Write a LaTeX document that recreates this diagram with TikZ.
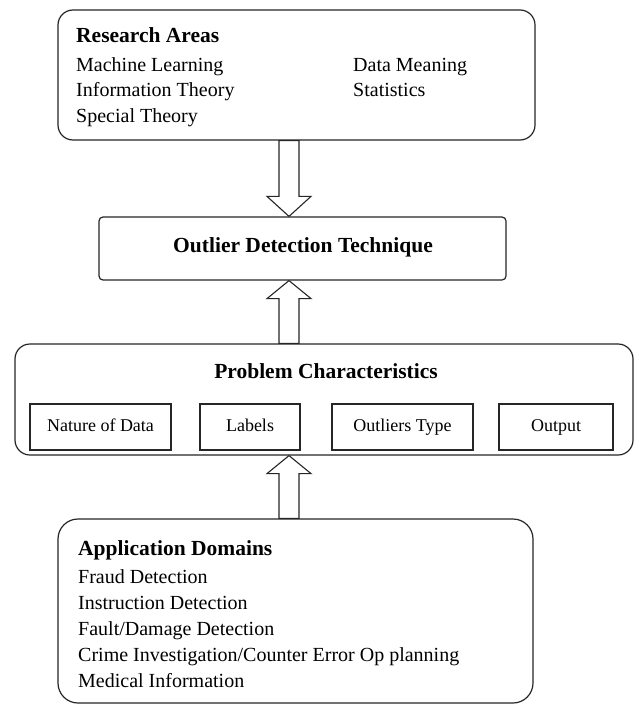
\documentclass[tikz,border=0pt]{standalone}
\usepackage{fontspec}
\setmainfont{Liberation Serif}
\usetikzlibrary{calc}
\newcommand\blkarrow[3]{%
  \draw[arrowshape] ($(#1)+(-10,0)$) -- ($(#2)+(-10,#3)$) -- ($(#2)+(-22,#3)$) -- (#2)
    -- ($(#2)+(22,#3)$) -- ($(#2)+(10,#3)$) -- ($(#1)+(10,0)$) -- cycle;}
\begin{document}
\begin{tikzpicture}[x=1pt,y=-1pt,
  bigbox/.style={draw=black!85, line width=1.2pt, rounded corners=15pt, inner sep=0pt},
  smallbox/.style={draw=black!85, line width=1.1pt, inner sep=0pt, minimum height=46pt,
     text height=13pt, text depth=5pt, font=\fontsize{18}{20}\selectfont},
  ttl/.style={anchor=base west, inner sep=0pt, font=\fontsize{21.5}{24}\selectfont\bfseries},
  itm/.style={anchor=base west, inner sep=0pt, font=\fontsize{20}{24}\selectfont},
  arrowshape/.style={draw=black!85, line width=1.1pt, fill=white, line join=miter}]
\useasboundingbox (0,0) rectangle (639,706);
\fill[white] (0,0) rectangle (639,706);
\coordinate (ax) at (289,0);

% Research Areas
\node[bigbox, minimum width=477pt, minimum height=130pt] (ra) at (296.5,75) {};
\node[ttl] (ratitle) at (76,43) {Research Areas};
\node[itm] (ml) at (76,72) {Machine Learning};
\node[itm] (it) at (76,97) {Information Theory};
\node[itm] (st) at (76,123) {Special Theory};
\node[itm] (dm) at (353,72) {Data Meaning};
\node[itm] (sta) at (353,97) {Statistics};

% Outlier Detection Technique
\node[draw=black!85, line width=1.2pt, rounded corners=4pt, minimum width=407pt,
      minimum height=63pt] (odt) at (302.5,248.5) {};
\node[anchor=base, inner sep=0pt, font=\fontsize{21.5}{24}\selectfont\bfseries]
      (odttext) at (303,252) {Outlier Detection Technique};

% Problem Characteristics
\node[bigbox, minimum width=618pt, minimum height=111pt] (pc) at (324,399.5) {};
\node[anchor=base, inner sep=0pt, font=\fontsize{21.5}{24}\selectfont\bfseries]
      (pctitle) at (326,378) {Problem Characteristics};
\node[smallbox, minimum width=141pt] (nd) at (100.5,427) {Nature of Data};
\node[smallbox, minimum width=100pt] (lb) at (250,427) {Labels};
\node[smallbox, minimum width=141pt] (ot) at (402.5,427) {Outliers Type};
\node[smallbox, minimum width=114pt] (op) at (556,427) {Output};

% Application Domains
\node[bigbox, rounded corners=20pt, minimum width=475pt, minimum height=184pt] (ad) at (295.5,611) {};
\node[ttl] (adtitle) at (78,555) {Application Domains};
\node[itm] (fd) at (78,583) {Fraud Detection};
\node[itm] (id) at (78,609) {Instruction Detection};
\node[itm] (fdd) at (78,635) {Fault/Damage Detection};
\node[itm] (ci) at (78,661) {Crime Investigation/Counter Error Op planning};
\node[itm] (mi) at (78,687) {Medical Information};

% Block arrows
\blkarrow{ra.south -| ax}{odt.north -| ax}{-20}
\blkarrow{pc.north -| ax}{odt.south -| ax}{18}
\blkarrow{ad.north -| ax}{pc.south -| ax}{18}
\end{tikzpicture}
\end{document}
